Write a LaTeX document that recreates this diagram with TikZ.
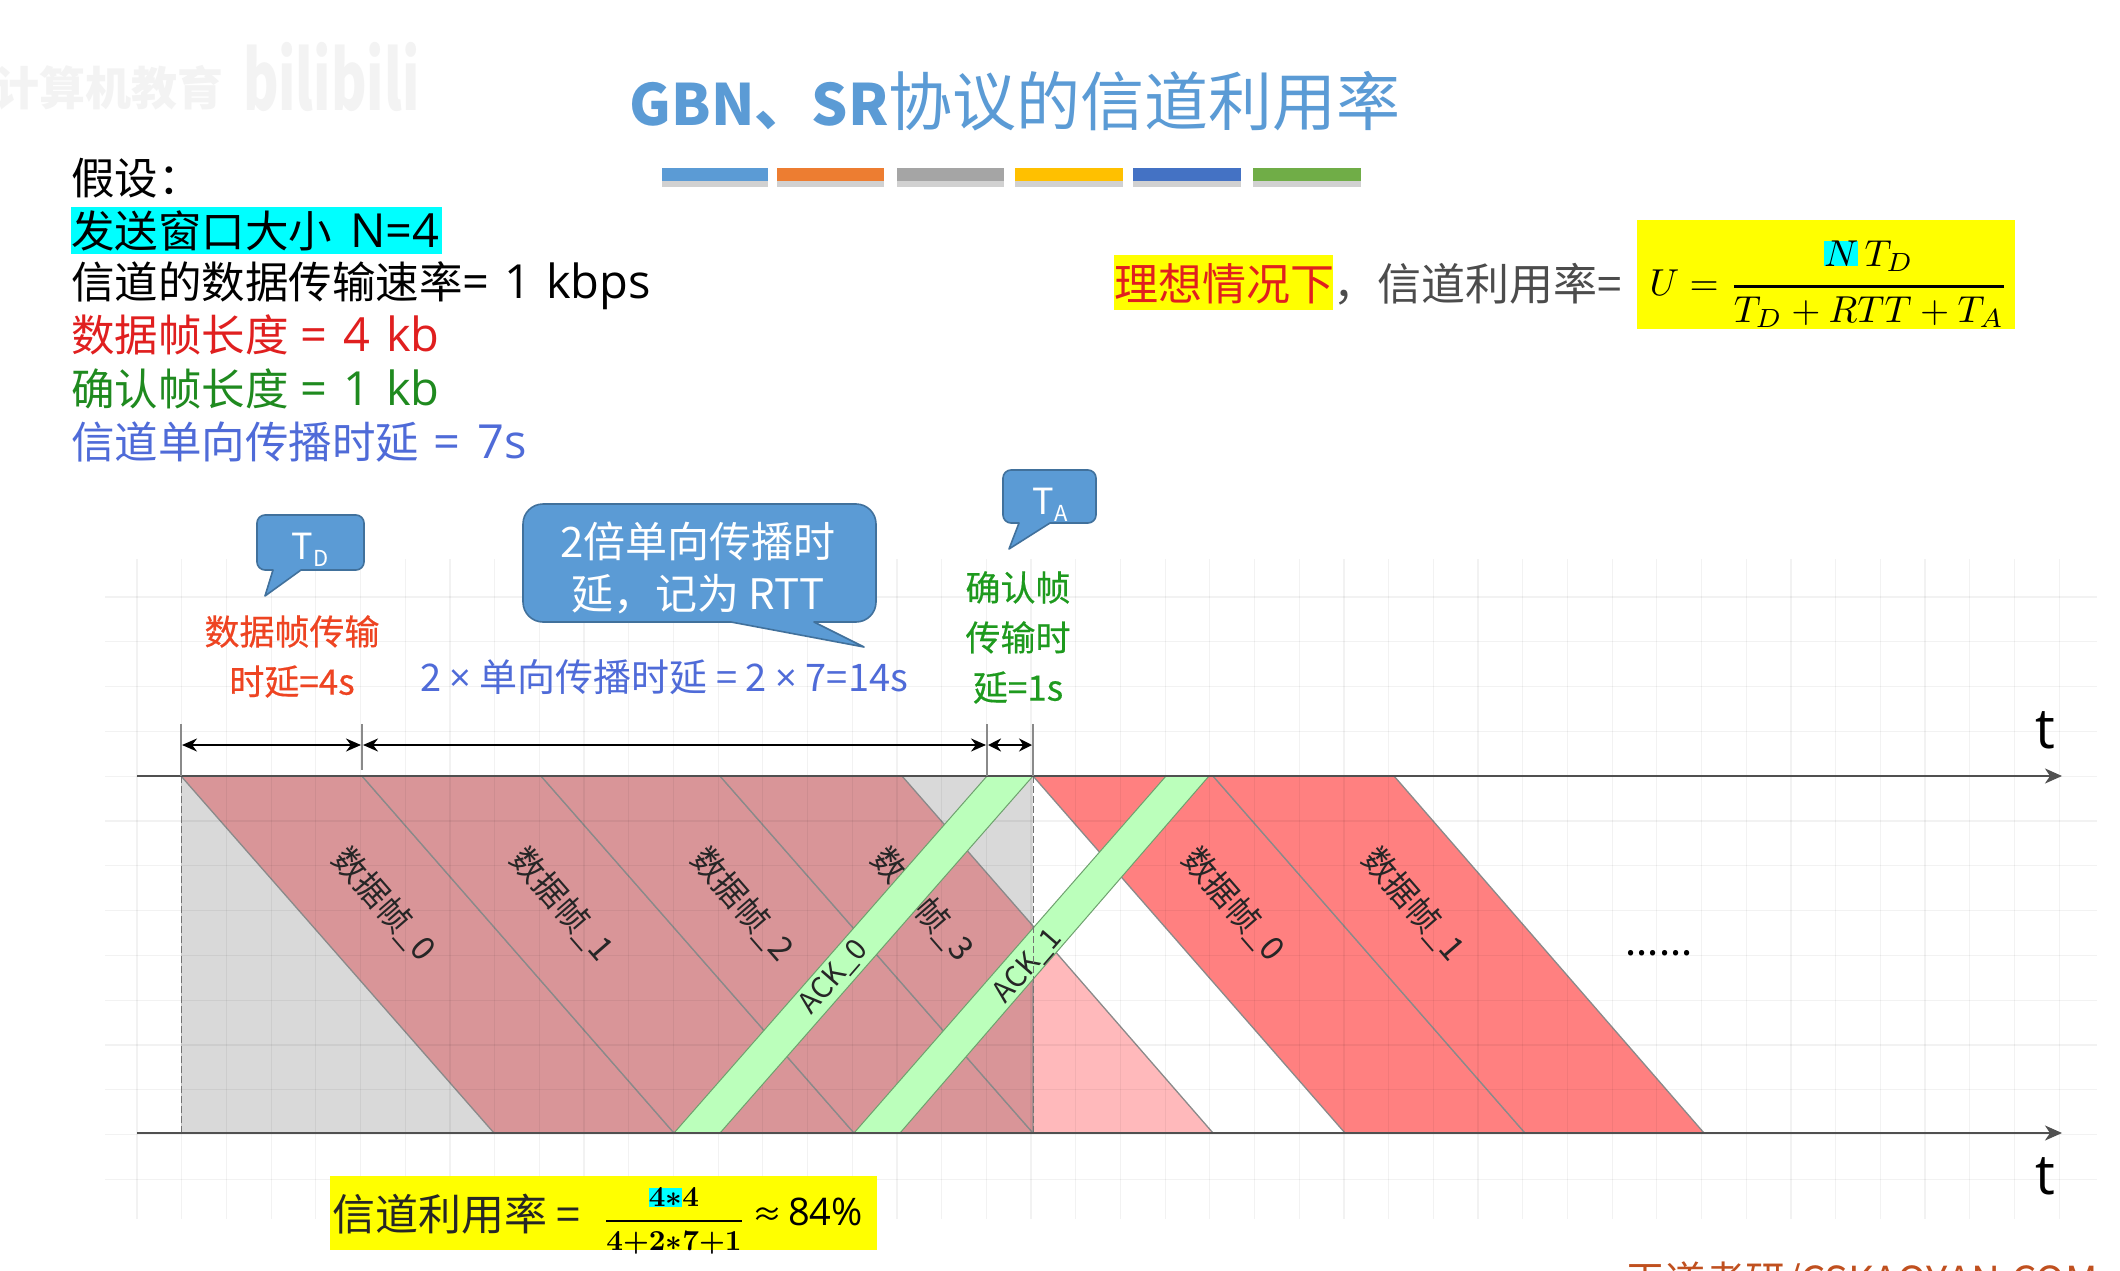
\documentclass[tikz,border=0pt]{standalone}
\usepackage{fontspec}
\usepackage{amsmath}
\setmainfont{Noto Sans CJK SC}
\newfontfamily\latf{Open Sans}
\newfontfamily\medf[FakeBold=0.4]{Noto Sans CJK SC}
\usetikzlibrary{arrows.meta,shapes.callouts,calc}
\definecolor{cyanb}{HTML}{00FFFF}
\definecolor{yel}{HTML}{FFFF00}
\definecolor{tblue}{HTML}{5B9BD5}
\definecolor{cborder}{HTML}{41719C}
\definecolor{dpink}{HTML}{D99598}
\definecolor{lpink}{HTML}{FFB9BB}
\definecolor{rframe}{HTML}{FF8080}
\definecolor{gfill}{HTML}{D9D9D9}
\definecolor{ackg}{HTML}{BBFFBB}
\definecolor{edgeg}{HTML}{8A8A8A}
\definecolor{axisg}{HTML}{505050}
\definecolor{tred}{HTML}{E01F1F}
\definecolor{tgreen}{HTML}{1F8A1F}
\definecolor{tindigo}{HTML}{4F6BD8}
\definecolor{lorange}{HTML}{EE4422}
\definecolor{lgreen}{HTML}{1E9A1E}
\definecolor{wm}{HTML}{F3F3F3}
\definecolor{footc}{HTML}{C0501F}
\newcommand{\fs}[1]{\fontsize{#1}{#1}\selectfont}
\newcommand{\la}[1]{{\fs{47}\latf #1}}
\tikzset{
  txt/.style={inner sep=0pt,outer sep=0pt,text depth=0pt},
  left/.style={txt,anchor=west,font=\fs{43.5}},
  framepoly/.style={draw=edgeg,line width=1.3pt,line join=round},
  ackpoly/.style={draw=edgeg!80!green,line width=1pt,fill=ackg},
  rotlab/.style={txt,rotate=-49,font=\fs{33},text=black!85},
  acklab/.style={txt,rotate=49,font=\fs{29},text=black!85},
  gridl/.style={black,opacity=.05,line width=1.2pt},
  axisl/.style={draw=axisg,line width=2pt,-{Stealth[length=17pt,width=15pt,inset=5pt]}},
  dimarrow/.style={draw=black,line width=2pt,{Stealth[length=15pt,width=13pt]}-{Stealth[length=15pt,width=13pt]},shorten >=1pt,shorten <=1pt},
  ticks/.style={draw=edgeg,line width=1.6pt},
  bubble/.style={draw=cborder,line width=1.6pt,fill=tblue,line join=round},
  dashv/.style={draw=black!55,dashed,line width=1pt,dash pattern=on 7pt off 3pt},
}
\begin{document}
\begin{tikzpicture}[x=1pt,y=-1pt]
\useasboundingbox (0,0) rectangle (2120,1271);
\fill[white] (0,0) rectangle (2120,1271);

% watermark
\node[txt,anchor=west,font=\fs{46}\bfseries,text=wm] (wm1) at (-6,85) {计算机教育};
\node[txt,anchor=west,font=\fs{82}\bfseries,text=wm] (wm2) at (243,76) {\scalebox{.66}[1]{bilibili}};

% title
\node[txt,anchor=center,font=\fs{64},text=tblue] (title) at (1015,98) {{\fs{57}\textbf{GBN、SR}}协议的信道利用率};
\foreach \a/\b/\c [count=\i] in {662/768/5B9BD5,777/884/ED7D31,897/1004/A5A5A5,1015/1123/FFC000,1133/1241/4472C4,1253/1361/70AD47}{
  \fill[black,opacity=.18] (\a,176) rectangle (\b,187);
  \definecolor{barc}{HTML}{\c}
  \fill[barc] (\a,168) rectangle (\b,181);
}

% assumptions
\fill[cyanb] (71,207) rectangle (442,254);
\node[left] (l1) at (71,176) {假设：};
\node[left] (l2) at (71,229) {发送窗口大小\hspace{18pt}\la{N=4}};
\node[left] (l3) at (71,280) {信道的数据传输速率\la{=\hspace{15pt}1\hspace{15pt}kbps}};
\node[left,text=tred] (l4) at (71,333) {数据帧长度\hspace{12pt}\la{=\hspace{16pt}4\hspace{16pt}kb}};
\node[left,text=tgreen] (l5) at (71,387) {确认帧长度\hspace{12pt}\la{=\hspace{16pt}1\hspace{16pt}kb}};
\node[left,text=tindigo] (l6) at (71,440) {信道单向传播时延\hspace{14pt}\la{=\hspace{18pt}7s}};

% right formula
\fill[yel] (1114,255) rectangle (1333,310);
\node[txt,anchor=west,font=\fs{44},text=tred] (ideal) at (1114,282) {理想情况下};
\node[txt,anchor=west,font=\fs{44},text=black!70] (ideal2) at (1333,282) {，信道利用率=};
\fill[yel] (1637,220) rectangle (2015,329);
\node[txt,anchor=center] (fU) at (1829,268) {\scalebox{3.75}{$U=\genfrac{}{}{0.8pt}{0}{\rule[-2.5pt]{0pt}{0pt}\fboxsep=0pt\colorbox{cyanb}{$N$}\,T_D}{T_D+RTT+T_A}$}};

% timeline shapes
\coordinate (s0) at (181,776);
\coordinate (s1) at (181,1133);
\coordinate (e0) at (1033,776);
\coordinate (e1) at (1033,1133);
\fill[gfill] (s0) rectangle (e1);
\filldraw[fill=lpink,framepoly] (1033,926) -- (1213,1133) -- (1033,1133);
\foreach \a/\b/\c/\d in {181/362/674/494,362/541/854/674,541/720/1033/854}{
  \filldraw[fill=dpink,framepoly] (\a,776) -- (\b,776) -- (\c,1133) -- (\d,1133) -- cycle;
}
\filldraw[fill=dpink,framepoly] (720,776) -- (902,776) -- (1033,926) -- (1033,1133) -- cycle;
\filldraw[fill=rframe,framepoly] (1033,776) -- (1213,776) -- (1525,1133) -- (1345,1133) -- cycle;
\filldraw[fill=rframe,framepoly] (1213,776) -- (1394,776) -- (1704,1133) -- (1525,1133) -- cycle;

% grid
\foreach \k in {0,...,43}{ \draw[gridl] ({137+44.7*\k},559) -- ({137+44.7*\k},1219); }
\foreach \k in {0,...,13}{ \draw[gridl] (105,{597+44.8*\k}) -- (2097,{597+44.8*\k}); }

% frame labels
\node[rotlab] (d0) at (386,903) {数据帧\_0};
\node[rotlab] (d1) at (564,903) {数据帧\_1};
\node[rotlab] (d2) at (744,903) {数据帧\_2};
\node[rotlab] (d3) at (924,903) {数据帧\_3};
\node[rotlab] (r0) at (1235,903) {数据帧\_0};
\node[rotlab] (r1) at (1415,903) {数据帧\_1};

% ACK bands
\filldraw[ackpoly] (987,776) -- (1033,776) -- (720,1133) -- (674,1133) -- cycle;
\filldraw[ackpoly] (1166,776) -- (1209,776) -- (900,1133) -- (854,1133) -- cycle;
\node[acklab] (a0) at (832,976) {ACK\_0};
\node[acklab] (a1) at (1026,965) {ACK\_1};

% dashed bounds
\draw[dashv] (s0) -- (s1);
\draw[dashv] (e0) -- (e1);

% axes
\coordinate (t0a) at (137,776);
\coordinate (t0b) at (2062,776);
\coordinate (t1a) at (137,1133);
\coordinate (t1b) at (2062,1133);
\draw[axisl] (t0a) -- (t0b);
\draw[axisl] (t1a) -- (t1b);
\node[txt,font=\fs{56}\latf] (tt) at (2045,730) {t};
\node[txt,font=\fs{56}\latf] (tb) at (2045,1176) {t};
\node[txt,font=\fs{40}] (dots) at (1659,953) {......};

% dimension markers
\coordinate (m0t) at (181,724); \coordinate (m0b) at (181,776);
\coordinate (m1t) at (362,724); \coordinate (m1b) at (362,770);
\coordinate (m2t) at (987,724); \coordinate (m2b) at (987,776);
\coordinate (m3t) at (1033,724); \coordinate (m3b) at (1033,776);
\draw[ticks] (m0t) -- (m0b);
\draw[ticks,line width=2.6pt] (m1t) -- (m1b);
\draw[ticks] (m2t) -- (m2b);
\draw[ticks] (m3t) -- (m3b);
\coordinate (d0c) at (181,745); \coordinate (d1c) at (362,745);
\coordinate (d2c) at (987,745); \coordinate (d3c) at (1033,745);
\draw[dimarrow] (d0c) -- (d1c);
\draw[dimarrow] (d1c) -- (d2c);
\draw[dimarrow,{Stealth[length=13pt,width=13pt]}-{Stealth[length=13pt,width=13pt]}] (d2c) -- (d3c);

% callouts
\filldraw[bubble] (265,596) -- (273,570) [rounded corners=8pt] -- (257,570) -- (257,515) -- (364,515) -- (364,570) [sharp corners] -- (301,570) -- cycle;
\node[txt,font=\fs{36},text=white] (td) at (310,546) {T\raisebox{-7pt}{\fs{22}D}};
\filldraw[bubble] (864,647) -- (731,622) [rounded corners=20pt] -- (523,622) -- (523,504) -- (876,504) -- (876,622) [sharp corners] -- (814,622) -- cycle;
\node[txt,font=\fs{42},text=white] (rtt1) at (698,540) {2倍单向传播时};
\node[txt,font=\fs{42},text=white] (rtt2) at (698,592) {延，记为 RTT};
\filldraw[bubble] (1009,549) -- (1019,523) [rounded corners=8pt] -- (1003,523) -- (1003,470) -- (1096,470) -- (1096,523) [sharp corners] -- (1050,523) -- cycle;
\node[txt,font=\fs{36},text=white] (ta) at (1050,501) {T\raisebox{-7pt}{\fs{22}A}};

% delay labels
\node[txt,font=\fs{35}\medf,text=lorange] (lb1) at (292,630) {数据帧传输};
\node[txt,font=\fs{35}\medf,text=lorange] (lb2) at (292,680) {时延=4s};
\node[txt,font=\fs{38},text=tindigo] (lb3) at (664,675) {2 {\latf ×} 单向传播时延 = 2 {\latf ×} 7=14s};
\node[txt,font=\fs{35}\medf,text=lgreen] (lb4) at (1018,586) {确认帧};
\node[txt,font=\fs{35}\medf,text=lgreen] (lb5) at (1018,636) {传输时};
\node[txt,font=\fs{35}\medf,text=lgreen] (lb6) at (1018,686) {延=1s};

% bottom formula
\fill[yel] (330,1176) rectangle (877,1250);
\node[txt,anchor=west,font=\fs{43},text=black!85] (bf1) at (332,1212) {信道利用率\hspace{10pt}=};
\node[txt,anchor=center] (bf2) at (674,1208) {\scalebox{2.9}{\boldmath$\dfrac{\fboxsep=0pt\colorbox{cyanb}{$4{*}$}4}{4{+}2{*}7{+}1}$}};
\node[txt,anchor=west,font=\fs{38}] (bf3) at (752,1212) {{\fs{30}≈}\hspace{6pt}{\latf 84\%}};

% footer
\node[txt,anchor=west,font=\fs{40},text=footc] (foot) at (1625,1279) {王道考研/CSKAOYAN.COM};
\end{tikzpicture}
\end{document}
